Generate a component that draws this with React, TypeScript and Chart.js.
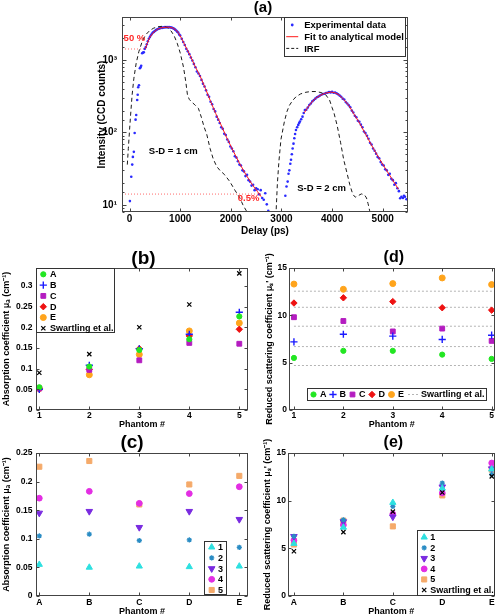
import React, { useEffect, useRef } from 'react';
import { Chart, registerables } from 'chart.js';
import { drawPoint } from 'chart.js/helpers';

Chart.register(...registerables);

const FONT = "'Liberation Sans', Arial, Helvetica, sans-serif";
const W = 500;
const H = 614;

// ---------------- Panel (a): time-resolved curves ----------------
const irf1: [number, number][] = [
  [-45, 36], [-25, 60], [0, 110], [20, 174], [50, 330], [85, 560], [130, 900], [183, 1300], [250, 1800],
  [314, 2200], [400, 2550], [477, 2740], [560, 2860], [640, 2900], [700, 2870], [760, 2750], [820, 2500],
  [880, 2150], [940, 1700], [1000, 1250], [1064, 800], [1110, 500], [1143, 330], [1180, 285], [1228, 262],
  [1290, 240], [1359, 215], [1420, 160], [1470, 120], [1523, 95], [1590, 60], [1653, 43], [1720, 34],
  [1784, 30], [1880, 26], [1980, 21], [2080, 16], [2176, 12.6], [2240, 10], [2307, 8.3], [2360, 6.8],
];
const irf2: [number, number][] = [
  [2890, 7], [2920, 20], [2950, 40], [2990, 80], [3058, 141], [3110, 195], [3156, 235], [3220, 275],
  [3287, 310], [3380, 340], [3483, 358], [3580, 366], [3679, 366], [3780, 355], [3875, 330], [3950, 280],
  [4000, 220], [4038, 185], [4100, 125], [4169, 72], [4230, 42], [4298, 27], [4350, 19], [4410, 14],
  [4460, 12.8], [4520, 13.5], [4580, 14.2], [4640, 13.8], [4680, 12.5], [4710, 10.5], [4740, 8.5], [4770, 6.8],
];
const fit1: [number, number][] = [
  [310, 1413], [350, 1700], [400, 2050], [480, 2420], [550, 2640], [620, 2760], [700, 2820], [780, 2826],
  [850, 2760], [910, 2600], [970, 2330], [1032, 1950], [1100, 1560], [1196, 1150], [1300, 800], [1392, 600],
  [1500, 400], [1600, 268], [1700, 183], [1800, 130], [1914, 86], [2050, 55], [2176, 37], [2300, 26],
  [2437, 18.5], [2520, 15.5], [2600, 13],
];
const fit2: [number, number][] = [
  [3450, 186], [3520, 222], [3581, 252], [3660, 290], [3744, 318], [3850, 345], [3973, 360], [4060, 352],
  [4136, 330], [4230, 285], [4332, 235], [4430, 180], [4528, 140], [4650, 98], [4789, 65], [4920, 45],
  [5051, 32], [5180, 23], [5312, 16.5],
];
const exp1: [number, number][] = [
  [6, 11.3], [33, 24.5], [52, 36], [65, 46], [84, 54], [100, 98], [118, 150], [131, 174], [150, 280],
  [160, 330], [170, 420], [185, 447], [203, 768], [216, 790], [229, 830], [248, 1237], [265, 1260],
  [281, 1275], [300, 1420], [320, 1500], [340, 1640], [360, 1800], [380, 1950], [400, 2060], [420, 2180],
  [440, 2290], [460, 2380], [480, 2430], [500, 2500], [520, 2570], [540, 2620], [560, 2660], [580, 2700],
  [600, 2720], [620, 2770], [640, 2760], [660, 2800], [680, 2790], [700, 2830], [720, 2810], [740, 2840],
  [760, 2820], [780, 2830], [800, 2810], [820, 2790], [840, 2770], [860, 2720], [880, 2680], [900, 2610],
  [920, 2540], [940, 2450], [960, 2380], [980, 2230], [1000, 2160], [1030, 1950], [1060, 1760], [1090, 1600],
  [1120, 1420], [1150, 1310], [1180, 1200], [1210, 1080], [1240, 980], [1270, 880], [1300, 790], [1330, 690],
  [1360, 650], [1390, 600], [1420, 530], [1450, 470], [1480, 430], [1510, 380], [1540, 330], [1570, 310],
  [1600, 265], [1630, 245], [1660, 210], [1690, 195], [1720, 165], [1750, 150], [1780, 135], [1810, 118],
  [1840, 112], [1870, 96], [1900, 92], [1930, 80], [1960, 74], [1990, 64], [2020, 60], [2050, 55],
  [2080, 47], [2110, 45], [2140, 40], [2170, 36], [2200, 35], [2230, 30], [2260, 29], [2290, 25],
  [2320, 26], [2350, 22], [2380, 21], [2410, 18.5], [2440, 19], [2470, 16], [2500, 17], [2530, 16.5],
  [2560, 14], [2590, 16], [2620, 12.5], [2650, 11.8], [2680, 14.5], [2710, 10.2], [2740, 8.3],
];
const exp2: [number, number][] = [
  [3077, 13.4], [3100, 18], [3123, 21], [3140, 27], [3156, 30], [3175, 37], [3189, 42], [3205, 50],
  [3221, 60], [3238, 70], [3254, 83], [3270, 95], [3287, 108], [3310, 118], [3332, 127], [3350, 135],
  [3365, 141], [3390, 152], [3416, 165], [3440, 185], [3463, 204], [3490, 205], [3520, 220], [3550, 238],
  [3580, 250], [3610, 268], [3640, 280], [3670, 292], [3700, 305], [3730, 312], [3760, 322], [3790, 330],
  [3820, 338], [3850, 342], [3880, 350], [3910, 353], [3940, 360], [3970, 356], [4000, 362], [4030, 352],
  [4060, 355], [4090, 345], [4120, 335], [4150, 322], [4180, 310], [4210, 292], [4240, 285], [4270, 262],
  [4300, 250], [4330, 236], [4360, 222], [4390, 200], [4420, 188], [4450, 170], [4480, 162], [4510, 145],
  [4540, 140], [4570, 128], [4600, 118], [4630, 103], [4660, 98], [4690, 90], [4720, 82], [4750, 72],
  [4780, 68], [4810, 60], [4840, 56], [4870, 51], [4900, 46], [4930, 44], [4960, 39], [4990, 36],
  [5020, 35], [5050, 31], [5080, 30], [5110, 26], [5140, 27], [5170, 23], [5200, 22], [5230, 19],
  [5260, 20], [5290, 17], [5320, 15.5], [5345, 12.4], [5370, 13], [5400, 12.5], [5420, 13.4], [5440, 13],
  [5470, 12],
];
const xTicksA = [0, 1000, 2000, 3000, 4000, 5000];

// ---------------- Panels (b)-(e): optical properties ----------------
const phantomIds = [1, 2, 3, 4, 5];
const seriesLetters = ['A', 'B', 'C', 'D', 'E'];
// absorption coefficient (cm^-1), per series letter, over phantoms 1..5
const absA = [0.055, 0.105, 0.145, 0.171, 0.226];
const absB = [0.050, 0.108, 0.148, 0.183, 0.236];
const absC = [0.052, 0.097, 0.120, 0.162, 0.160];
const absD = [0.051, 0.098, 0.148, 0.179, 0.195];
const absE = [0.052, 0.085, 0.134, 0.191, 0.210];
const absSwartling = [0.090, 0.135, 0.200, 0.255, 0.330];
// reduced scattering coefficient (cm^-1)
const scatA = [5.5, 6.25, 6.25, 5.85, 5.4];
const scatB = [7.2, 8.0, 7.8, 7.45, 7.9];
const scatC = [9.8, 9.4, 8.3, 8.6, 7.3];
const scatD = [11.3, 11.85, 11.45, 10.8, 10.55];
const scatE = [13.3, 12.75, 13.35, 13.95, 13.25];
const scatSwartling = [4.7, 6.7, 8.85, 10.85, 12.55];

const absBySeries = [absA, absB, absC, absD, absE];
const scatBySeries = [scatA, scatB, scatC, scatD, scatE];

// ---------------- styles ----------------
type Sty = { pointStyle: string; color: string; radius: number; bw: number; rotation?: number };
const letterStyles: Sty[] = [
  { pointStyle: 'circle', color: '#22e622', radius: 2.6, bw: 1 },
  { pointStyle: 'cross', color: '#1a1aff', radius: 3.6, bw: 1.4 },
  { pointStyle: 'rect', color: '#b41cc0', radius: 3.4, bw: 1 },
  { pointStyle: 'rectRot', color: '#ee1111', radius: 3.2, bw: 1 },
  { pointStyle: 'circle', color: '#ffa41c', radius: 3.0, bw: 1 },
];
const swStyle: Sty = { pointStyle: 'crossRot', color: '#000000', radius: 3.0, bw: 1.2 };
const phantomStyles: Sty[] = [
  { pointStyle: 'triangle', color: '#2de0e0', radius: 3.6, bw: 1 },
  { pointStyle: 'star', color: '#2a8cc4', radius: 2.6, bw: 1.3 },
  { pointStyle: 'triangle', color: '#7a2be0', radius: 3.8, bw: 1, rotation: 180 },
  { pointStyle: 'circle', color: '#e32ee3', radius: 2.9, bw: 1 },
  { pointStyle: 'rect', color: '#f5aa6a', radius: 3.6, bw: 1 },
];

const xy = (pts: [number, number][]) => pts.map(([x, y]) => ({ x, y }));

function pointDataset(label: string, data: any[], s: Sty, order = 1) {
  return {
    label, data, showLine: false, order,
    pointStyle: s.pointStyle, pointRadius: s.radius, pointRotation: s.rotation || 0,
    pointBackgroundColor: s.color, pointBorderColor: s.color, pointBorderWidth: s.bw,
    backgroundColor: s.color, borderColor: s.color,
  };
}

// ---------------- plugins ----------------
function boxPlugin() {
  return {
    id: 'matlabBox',
    afterDatasetsDraw(chart: any) {
      const { ctx, chartArea: a } = chart;
      ctx.save();
      ctx.strokeStyle = '#444444';
      ctx.lineWidth = 1;
      const L = Math.round(a.left) + 0.5, R = Math.round(a.right) - 0.5;
      const T = Math.round(a.top) + 0.5, B = Math.round(a.bottom) - 0.5;
      ctx.strokeRect(L, T, R - L, B - T);
      const len = 3;
      for (const id of ['x', 'y']) {
        const s = chart.scales[id];
        for (const t of s.ticks) {
          const p = s.getPixelForValue(t.value);
          let l = len;
          if (s.type === 'logarithmic') {
            const lg = Math.log10(t.value);
            l = Math.abs(lg - Math.round(lg)) < 1e-9 ? 4 : 2;
          }
          ctx.beginPath();
          if (id === 'x') {
            if (p < L - 0.5 || p > R + 0.5) continue;
            const px = Math.round(p) + 0.5;
            ctx.moveTo(px, B); ctx.lineTo(px, B - l);
            ctx.moveTo(px, T); ctx.lineTo(px, T + l);
          } else {
            if (p < T - 0.5 || p > B + 0.5) continue;
            const py = Math.round(p) + 0.5;
            ctx.moveTo(L, py); ctx.lineTo(L + l, py);
            ctx.moveTo(R, py); ctx.lineTo(R - l, py);
          }
          ctx.stroke();
        }
      }
      ctx.restore();
    },
  };
}

type LegItem = { label: string; kind: 'point' | 'line'; style?: Sty; color?: string; dash?: number[]; lineW?: number };

function drawSym(ctx: any, it: LegItem, cx: number, cy: number, lineLen: number) {
  ctx.save();
  if (it.kind === 'line') {
    ctx.strokeStyle = it.color;
    ctx.lineWidth = it.lineW ?? 1;
    ctx.setLineDash(it.dash ?? []);
    ctx.beginPath();
    ctx.moveTo(cx - lineLen / 2, cy);
    ctx.lineTo(cx + lineLen / 2, cy);
    ctx.stroke();
  } else if (it.style) {
    const s = it.style;
    ctx.fillStyle = s.color;
    ctx.strokeStyle = s.color;
    ctx.lineWidth = s.bw;
    drawPoint(ctx, { pointStyle: s.pointStyle as any, radius: s.radius, rotation: s.rotation || 0, borderWidth: s.bw } as any, cx, cy);
  }
  ctx.restore();
}

function legendPlugin(o: any) {
  return {
    id: 'boxLegend',
    afterDraw(chart: any) {
      const { ctx, chartArea: a } = chart;
      const items: LegItem[] = o.items;
      ctx.save();
      ctx.font = `bold ${o.size}px ${FONT}`;
      const widths = items.map((it) => ctx.measureText(it.label).width);
      let w: number, h: number;
      if (o.horizontal) {
        w = o.padL + o.padR;
        items.forEach((it, i) => {
          w += (it.kind === 'line' ? o.lineTextOff : o.textOff) + widths[i] + (i < items.length - 1 ? o.gap : 0);
        });
        h = o.height;
      } else {
        w = o.textX + Math.max(...widths) + o.padR;
        h = o.padTop + (items.length - 1) * o.rowH + o.padBottom;
      }
      const bx = o.anchor.includes('r') ? a.right - o.dx - w : a.left + o.dx;
      const by = o.anchor.includes('b') ? a.bottom - o.dy - h : a.top + o.dy;
      ctx.fillStyle = '#ffffff';
      ctx.fillRect(bx, by, w, h);
      ctx.strokeStyle = '#333';
      ctx.lineWidth = 1;
      ctx.strokeRect(Math.round(bx) + 0.5, Math.round(by) + 0.5, Math.round(w) - 1, Math.round(h) - 1);
      ctx.fillStyle = '#000';
      ctx.textAlign = 'left';
      ctx.textBaseline = 'middle';
      if (o.horizontal) {
        let cur = bx + o.padL;
        const cy = by + h / 2;
        items.forEach((it, i) => {
          const isLine = it.kind === 'line';
          drawSym(ctx, it, cur + (isLine ? o.lineLen / 2 + 1 : 3.5), cy, o.lineLen);
          const tx = cur + (isLine ? o.lineTextOff : o.textOff);
          ctx.fillStyle = '#000';
          ctx.fillText(it.label, tx, cy + 0.5);
          cur = tx + widths[i] + o.gap;
        });
      } else {
        items.forEach((it, i) => {
          const cy = by + o.padTop + i * o.rowH;
          drawSym(ctx, it, bx + o.symX, cy, o.lineLen);
          ctx.fillStyle = '#000';
          ctx.fillText(it.label, bx + o.textX, cy + 0.5);
        });
      }
      ctx.restore();
    },
  };
}

function notesPlugin(items: any[]) {
  return {
    id: 'notes',
    afterDatasetsDraw(chart: any) {
      const { ctx } = chart;
      ctx.save();
      for (const n of items) {
        ctx.font = `bold ${n.size}px ${FONT}`;
        ctx.fillStyle = n.color;
        ctx.textAlign = n.align;
        ctx.textBaseline = 'middle';
        ctx.fillText(n.text, chart.scales.x.getPixelForValue(n.x), chart.scales.y.getPixelForValue(n.y));
      }
      ctx.restore();
    },
  };
}

function panelLabelPlugin(text: string, size: number, dx: number, dy: number) {
  return {
    id: 'panelLabel',
    afterDraw(chart: any) {
      const { ctx, chartArea: a } = chart;
      ctx.save();
      ctx.font = `bold ${size}px ${FONT}`;
      ctx.fillStyle = '#000';
      ctx.textAlign = 'center';
      ctx.textBaseline = 'middle';
      ctx.fillText(text, (a.left + a.right) / 2 + dx, a.top - dy);
      ctx.restore();
    },
  };
}

// ---------------- geometry helpers ----------------
type Geo = { left: number; right: number; top: number; bottom: number; yW: number; xH: number };
const pad = (g: Geo) => ({ left: g.left - g.yW, top: g.top, right: W - g.right, bottom: H - g.bottom - g.xH });
const f = (size: number) => ({ family: FONT, size, weight: 'bold' as const, lineHeight: 1.2 });

function baseOptions(g: Geo, scales: any) {
  return {
    responsive: false,
    animation: false as const,
    devicePixelRatio: 1,
    layout: { padding: pad(g) },
    plugins: { legend: { display: false }, title: { display: false }, tooltip: { enabled: false } },
    events: [] as any[],
    scales,
  };
}

function xAxis(g: Geo, min: number, max: number, labels: string[] | null, text: string, tickPad: number, titlePadB: number, tickSize: number, titleSize: number) {
  return {
    type: 'linear', min, max,
    afterFit: (s: any) => { s.height = g.xH; },
    grid: { display: false, drawTicks: false }, border: { display: false },
    ticks: {
      stepSize: 1, includeBounds: false, autoSkip: false, maxRotation: 0, minRotation: 0,
      padding: tickPad, font: f(tickSize), color: '#000',
      callback: (v: any) => (labels ? labels[Math.round(v) - 1] : String(v)),
    },
    title: { display: true, text, font: f(titleSize), color: '#000', padding: { top: 0, bottom: titlePadB } },
  };
}

function yAxis(g: Geo, min: number, max: number, step: number, text: string, tickPad: number, titlePadT: number, tickSize: number, titleSize: number) {
  return {
    type: 'linear', min, max,
    afterFit: (s: any) => { s.width = g.yW; },
    grid: { display: false, drawTicks: false }, border: { display: false },
    ticks: {
      stepSize: step, includeBounds: false, autoSkip: false,
      padding: tickPad, font: f(tickSize), color: '#000',
      callback: (v: any) => String(Math.round(v * 100) / 100),
    },
    title: { display: true, text, font: f(titleSize), color: '#000', padding: { top: titlePadT, bottom: 0 } },
  };
}

// ---------------- configs ----------------
const SUP = ['⁰', '¹', '²', '³', '⁴', '⁵'];

function configA() {
  const g: Geo = { left: 122, right: 408, top: 17, bottom: 212, yW: 40, xH: 30 };
  const xMin = -150, xMax = 5500;
  const peak1 = Math.max(...fit1.map((p) => p[1]));
  const halfLine = [{ x: xMin, y: peak1 * 0.5 }, { x: fit1[0][0], y: peak1 * 0.5 }];
  const tailLine = [{ x: xMin, y: peak1 * 0.005 }, { x: fit1[fit1.length - 1][0], y: peak1 * 0.005 }];
  const expStyle = { showLine: false, pointStyle: 'circle', pointRadius: 1.3, pointBackgroundColor: '#2a2aff', pointBorderColor: '#2a2aff', pointBorderWidth: 0, order: 3 };
  const fitStyle = { showLine: true, pointRadius: 0, borderColor: '#ff1a1a', borderWidth: 1, order: 1, tension: 0 };
  const irfStyle = { showLine: true, pointRadius: 0, borderColor: '#1a1a1a', borderWidth: 1, borderDash: [4, 3], order: 2, tension: 0 };
  const lvlStyle = { showLine: true, pointRadius: 0, borderColor: '#ff6b6b', borderWidth: 1, borderDash: [1, 2], order: 4 };
  const scales = {
    x: {
      type: 'linear', min: xMin, max: xMax,
      afterFit: (s: any) => { s.height = g.xH; },
      afterBuildTicks: (s: any) => { s.ticks = xTicksA.map((v) => ({ value: v })); },
      grid: { display: false, drawTicks: false }, border: { display: false },
      ticks: { autoSkip: false, maxRotation: 0, padding: 1, font: f(10), color: '#000', callback: (v: any) => String(v) },
      title: { display: true, text: 'Delay (ps)', font: f(10), color: '#000', padding: { top: 0, bottom: 5 } },
    },
    y: {
      type: 'logarithmic', min: 8, max: 3900,
      afterFit: (s: any) => { s.width = g.yW; },
      grid: { display: false, drawTicks: false }, border: { display: false },
      ticks: {
        autoSkip: false, padding: 5, font: f(10), color: '#000',
        callback: (v: any) => {
          const l = Math.log10(v);
          return Math.abs(l - Math.round(l)) < 1e-9 ? '10' + SUP[Math.round(l)] : '';
        },
      },
      title: { display: true, text: 'Intensity (CCD counts)', font: f(10), color: '#000', padding: { top: 14, bottom: 0 } },
    },
  };
  return {
    type: 'scatter',
    data: {
      datasets: [
        { label: 'Experimental data', data: xy(exp1), ...expStyle },
        { label: 'Experimental data', data: xy(exp2), ...expStyle },
        { label: 'Fit to analytical model', data: xy(fit1), ...fitStyle },
        { label: 'Fit to analytical model', data: xy(fit2), ...fitStyle },
        { label: 'IRF', data: xy(irf1), ...irfStyle },
        { label: 'IRF', data: xy(irf2), ...irfStyle },
        { label: '50 %', data: halfLine, ...lvlStyle },
        { label: '0.5%', data: tailLine, ...lvlStyle },
      ],
    },
    options: baseOptions(g, scales),
    plugins: [
      boxPlugin(),
      notesPlugin([
        { text: '50 %', x: -118, y: 2000, align: 'left', color: '#ff2a2a', size: 9.5 },
        { text: '0.5%', x: 2352, y: 12.3, align: 'center', color: '#ff2a2a', size: 9.5 },
        { text: 'S-D = 1 cm', x: 862, y: 55, align: 'center', color: '#000', size: 9.5 },
        { text: 'S-D = 2 cm', x: 3793, y: 17, align: 'center', color: '#000', size: 9.5 },
      ]),
      legendPlugin({
        anchor: 'tr', dx: 2, dy: 0, size: 9.5, symX: 8, textX: 20, padR: 2, padTop: 8, rowH: 11.7, padBottom: 8.5, lineLen: 12,
        items: [
          { label: 'Experimental data', kind: 'point', style: { pointStyle: 'circle', color: '#2a2aff', radius: 1.4, bw: 0 } },
          { label: 'Fit to analytical model', kind: 'line', color: '#ff1a1a' },
          { label: 'IRF', kind: 'line', color: '#1a1a1a', dash: [3, 2] },
        ],
      }),
      panelLabelPlugin('(a)', 15, -2, 9),
    ],
  };
}

const absTitle = 'Absorption coefficient μₐ (cm⁻¹)';
const scatTitle = "Reduced scattering coefficient μₛ' (cm⁻¹)";

function configB() {
  const g: Geo = { left: 36, right: 248, top: 268, bottom: 410, yW: 36, xH: 20 };
  const datasets: any[] = seriesLetters.map((L, i) =>
    pointDataset(L, phantomIds.map((p, k) => ({ x: p, y: absBySeries[i][k] })), letterStyles[i], 2));
  datasets.push(pointDataset('Swartling et al.', phantomIds.map((p, k) => ({ x: p, y: absSwartling[k] })), swStyle, 1));
  const scales = {
    x: xAxis(g, 0.934, 5.174, null, 'Phantom #', 1, 0, 8.5, 9),
    y: yAxis(g, 0, 0.343, 0.05, absTitle, 3.5, 1.6, 8.5, 9),
  };
  return {
    type: 'scatter', data: { datasets }, options: baseOptions(g, scales),
    plugins: [
      boxPlugin(),
      legendPlugin({
        anchor: 'tl', dx: 0, dy: 0, size: 9, symX: 7.3, textX: 14, padR: 1, padTop: 6.3, rowH: 10.8, padBottom: 4.7, lineLen: 12,
        items: [
          ...seriesLetters.map((L, i) => ({ label: L, kind: 'point', style: letterStyles[i] })),
          { label: 'Swartling et al.', kind: 'point', style: swStyle },
        ],
      }),
      panelLabelPlugin('(b)', 19, 1.5, 9),
    ],
  };
}

function configC() {
  const g: Geo = { left: 36, right: 248, top: 453, bottom: 596, yW: 36, xH: 18 };
  const datasets: any[] = phantomIds.map((p, k) =>
    pointDataset(String(p), seriesLetters.map((L, i) => ({ x: i + 1, y: absBySeries[i][k] })), phantomStyles[k], 1));
  const scales = {
    x: xAxis(g, 0.934, 5.174, seriesLetters, 'Phantom #', 2, -3.4, 8.5, 9),
    y: yAxis(g, 0, 0.25, 0.05, absTitle, 3.5, 1.6, 8.5, 9),
  };
  return {
    type: 'scatter', data: { datasets }, options: baseOptions(g, scales),
    plugins: [
      boxPlugin(),
      legendPlugin({
        anchor: 'br', dx: 21, dy: 1, size: 9, symX: 7.7, textX: 14, padR: 4, padTop: 6.3, rowH: 10.7, padBottom: 5, lineLen: 12,
        items: phantomIds.map((p, k) => ({ label: String(p), kind: 'point', style: phantomStyles[k] })),
      }),
      panelLabelPlugin('(c)', 19, -10, 10),
    ],
  };
}

function configD() {
  const g: Geo = { left: 289, right: 498, top: 268, bottom: 410, yW: 27, xH: 20 };
  const xMin = 0.9, xMax = 5.06;
  const datasets: any[] = seriesLetters.map((L, i) =>
    pointDataset(L, phantomIds.map((p, k) => ({ x: p, y: scatBySeries[i][k] })), letterStyles[i], 1));
  scatSwartling.forEach((v) => {
    datasets.push({
      label: 'Swartling et al.', data: [{ x: phantomIds[0], y: v }, { x: xMax, y: v }],
      showLine: true, pointRadius: 0, borderColor: '#b4b4b4', borderWidth: 1, borderDash: [2, 2], order: 5,
    });
  });
  const scales = {
    x: xAxis(g, xMin, xMax, null, 'Phantom #', 1, 0, 8.5, 9),
    y: yAxis(g, 0, 15, 5, scatTitle, 2, 2.6, 8.5, 9),
  };
  return {
    type: 'scatter', data: { datasets }, options: baseOptions(g, scales),
    plugins: [
      boxPlugin(),
      legendPlugin({
        horizontal: true, anchor: 'bl', dx: 18, dy: 9, size: 9, height: 13, padL: 3, padR: 2, textOff: 10, lineTextOff: 14, gap: 3, lineLen: 11,
        items: [
          ...seriesLetters.map((L, i) => ({ label: L, kind: 'point', style: letterStyles[i] })),
          { label: 'Swartling et al.', kind: 'line', color: '#b4b4b4', dash: [2, 2] },
        ],
      }),
      panelLabelPlugin('(d)', 16, 2, 10.5),
    ],
  };
}

function configE() {
  const g: Geo = { left: 288, right: 498, top: 453, bottom: 596, yW: 26, xH: 18 };
  const datasets: any[] = phantomIds.map((p, k) =>
    pointDataset(String(p), seriesLetters.map((L, i) => ({ x: i + 1, y: scatBySeries[i][k] })), phantomStyles[k], 2));
  datasets.push(pointDataset('Swartling et al.', seriesLetters.map((L, i) => ({ x: i + 1, y: scatSwartling[i] })), swStyle, 1));
  const scales = {
    x: xAxis(g, 0.88, 5.06, seriesLetters, 'Phantom #', 2, -3.4, 8.5, 9),
    y: yAxis(g, 0, 15, 5, scatTitle, 2, 0.6, 8.5, 9),
  };
  return {
    type: 'scatter', data: { datasets }, options: baseOptions(g, scales),
    plugins: [
      boxPlugin(),
      legendPlugin({
        anchor: 'br', dx: 0, dy: 0, size: 9, symX: 7, textX: 13, padR: 1, padTop: 7.3, rowH: 10.55, padBottom: 6, lineLen: 12,
        items: [
          ...phantomIds.map((p, k) => ({ label: String(p), kind: 'point', style: phantomStyles[k] })),
          { label: 'Swartling et al.', kind: 'point', style: swStyle },
        ],
      }),
      panelLabelPlugin('(e)', 16, 2, 10),
    ],
  };
}

export default function App() {
  const r0 = useRef<HTMLCanvasElement>(null);
  const r1 = useRef<HTMLCanvasElement>(null);
  const r2 = useRef<HTMLCanvasElement>(null);
  const r3 = useRef<HTMLCanvasElement>(null);
  const r4 = useRef<HTMLCanvasElement>(null);
  const refs = [r0, r1, r2, r3, r4];
  useEffect(() => {
    const configs = [configA(), configB(), configC(), configD(), configE()];
    const charts = configs.map((c, i) => new Chart(refs[i].current as HTMLCanvasElement, c as any));
    return () => charts.forEach((c) => c.destroy());
  }, []);
  return (
    <div style={{ position: 'absolute', left: 0, top: 0, width: W, height: H, background: '#ffffff', overflow: 'hidden' }}>
      {refs.map((r, i) => (
        <canvas key={i} ref={r} width={W} height={H} style={{ position: 'absolute', left: 0, top: 0, width: W, height: H }} />
      ))}
    </div>
  );
}
